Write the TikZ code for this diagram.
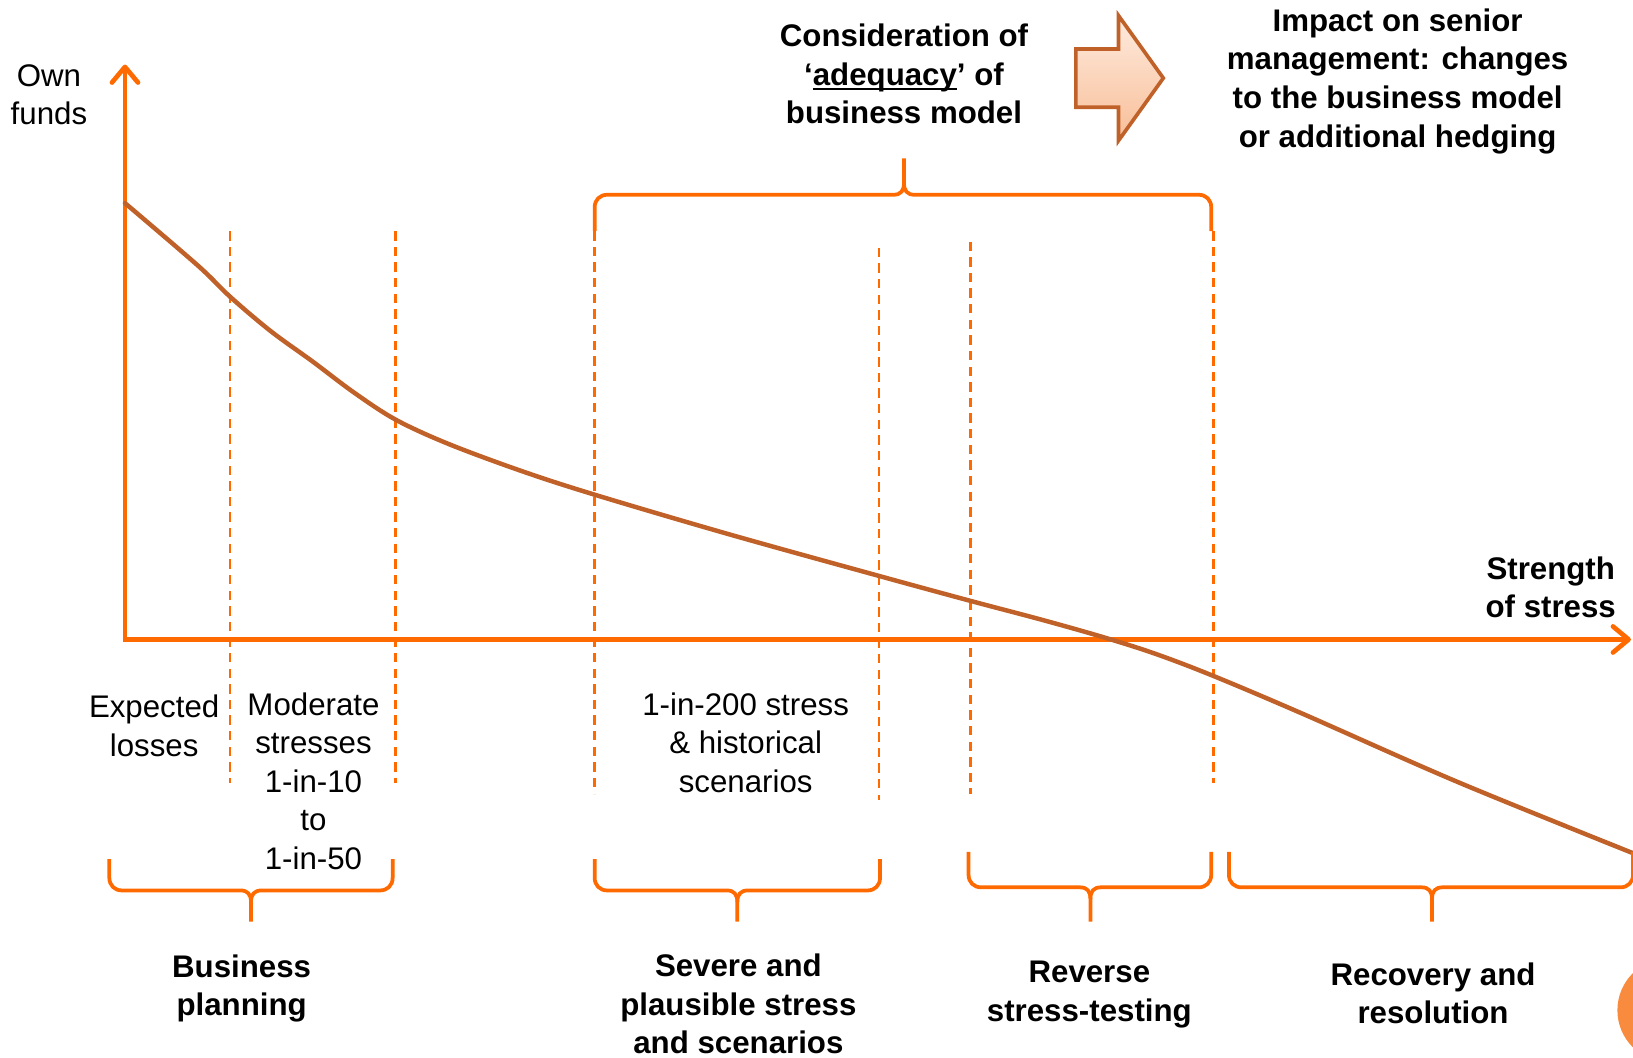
\documentclass[tikz,border=0pt]{standalone}
\usepackage{fontspec}
\setmainfont{Liberation Sans}
\usetikzlibrary{arrows.meta}
\definecolor{axisor}{HTML}{FF6A00}
\definecolor{curvebrown}{HTML}{BF6128}
\definecolor{arrowtop}{HTML}{FEEBDF}
\definecolor{arrowbot}{HTML}{F8BE97}
\definecolor{circfill}{HTML}{F98B3E}
% thick underline
\newcommand{\myul}[1]{\setbox0\hbox{#1}\rlap{\vrule height -2.5pt depth 5pt width \wd0}\box0}
% generic brace: xL xR yend yh xtip ytip sign(+1 ends above, -1 ends below)
\newcommand{\mybrace}[7]{%
  \draw[bracestyle] (#1,#3) -- (#1,{#4-#7*12}) .. controls (#1,{#4-#7*5}) and ({#1+5},#4) .. ({#1+12},#4)
     -- ({#5-10},#4) .. controls ({#5-3},#4) and (#5,{#4+#7*4}) .. (#5,{#4+#7*11}) -- (#5,#6);
  \draw[bracestyle] (#2,#3) -- (#2,{#4-#7*12}) .. controls (#2,{#4-#7*5}) and ({#2-5},#4) .. ({#2-12},#4)
     -- ({#5+10},#4) .. controls ({#5+3},#4) and (#5,{#4+#7*4}) .. (#5,{#4+#7*11});
}
\begin{document}
\begin{tikzpicture}[x=1pt,y=-1pt,
  every node/.style={inner sep=0pt, align=center},
  plainlbl/.style={font=\fontsize{30}{37}\selectfont},
  boldlbl/.style={font=\fontsize{30}{37}\selectfont\bfseries},
  axisline/.style={draw=axisor, line width=4.5pt, -{Straight Barb[round,length=15pt,width=25pt]}},
  curveline/.style={draw=curvebrown, line width=4.3pt, line cap=round, line join=round},
  guide/.style={draw=axisor, line width=2.5pt, dash pattern=on 9pt off 6pt},
  bracestyle/.style={draw=axisor, line width=3.6pt, line join=round},
  blockarrow/.style={draw=curvebrown, line width=3.5pt, line join=miter, top color=arrowtop, bottom color=arrowbot}
]
\useasboundingbox (0,0) rectangle (1568,1015);

% dashed guides
\draw[guide] (221,222) -- (221,752);
\draw[guide] (380,222) -- (380,752);
\draw[guide] (571,222) -- (571,762);
\draw[guide] (844,238) -- (844,768);
\draw[guide] (932,232) -- (932,762);
\draw[guide] (1165,222) -- (1165,752);

% axes
\coordinate (O) at (120,614);
\coordinate (ytop) at (120,62);
\coordinate (xend) at (1566,614);
\draw[axisline] (O) -- (ytop);
\draw[axisline] ([xshift=-2pt]O) -- (xend);

% curve
\draw[curveline] plot[smooth, tension=0.55] coordinates {
 (120,195) (190,255) (221,285) (260,318) (300,347) (340,377) (380,403)
 (430,426) (500,452) (571,475) (700,513) (844,553) (932,577) (1000,595)
 (1060,612) (1110,628) (1165,649) (1250,685) (1400,751) (1570,820)};

% top brace
\mybrace{571}{1163}{222}{187}{868}{152}{-1}
% bottom braces
\mybrace{105}{377}{825}{855}{241}{885}{1}
\mybrace{571}{845}{825}{855}{708}{885}{1}
\mybrace{930}{1163}{818}{852}{1047}{885}{1}
\mybrace{1180}{1568}{818}{852}{1375}{885}{1}

% block arrow
\draw[blockarrow] (1033,47) -- (1074,47) -- (1074,15) -- (1117,75) -- (1074,135) -- (1074,103) -- (1033,103) -- cycle;

% circle at bottom right
\fill[circfill] (1603,970) circle[radius=50];

% labels
\node[plainlbl] (own) at (47,91) {Own\\funds};
\node[boldlbl] (consid) at (868,71) {Consideration of\\‘\myul{adequacy}’ of\\business model};
\node[boldlbl] (impact) at (1342,78) {Impact on senior\\management: changes\\to the business model\\or additional hedging};
\node[boldlbl] (strength) at (1489,564) {Strength\\of stress};
\node[plainlbl] (expected) at (148,697) {Expected\\losses};
\node[plainlbl] (moderate) at (301,750) {Moderate\\stresses\\1-in-10\\to\\1-in-50};
\node[plainlbl] (onein200) at (716,713) {1-in-200 stress\\\& historical\\scenarios};
\node[boldlbl] (bp) at (232,949) {Business\\planning};
\node[boldlbl] (severe) at (709,964) {Severe and\\plausible stress\\and scenarios};
\node[boldlbl] (reverse) at (1046,955) {Reverse\\stress-testing};
\node[boldlbl] (recovery) at (1376,954) {Recovery and\\resolution};
\end{tikzpicture}
\end{document}
